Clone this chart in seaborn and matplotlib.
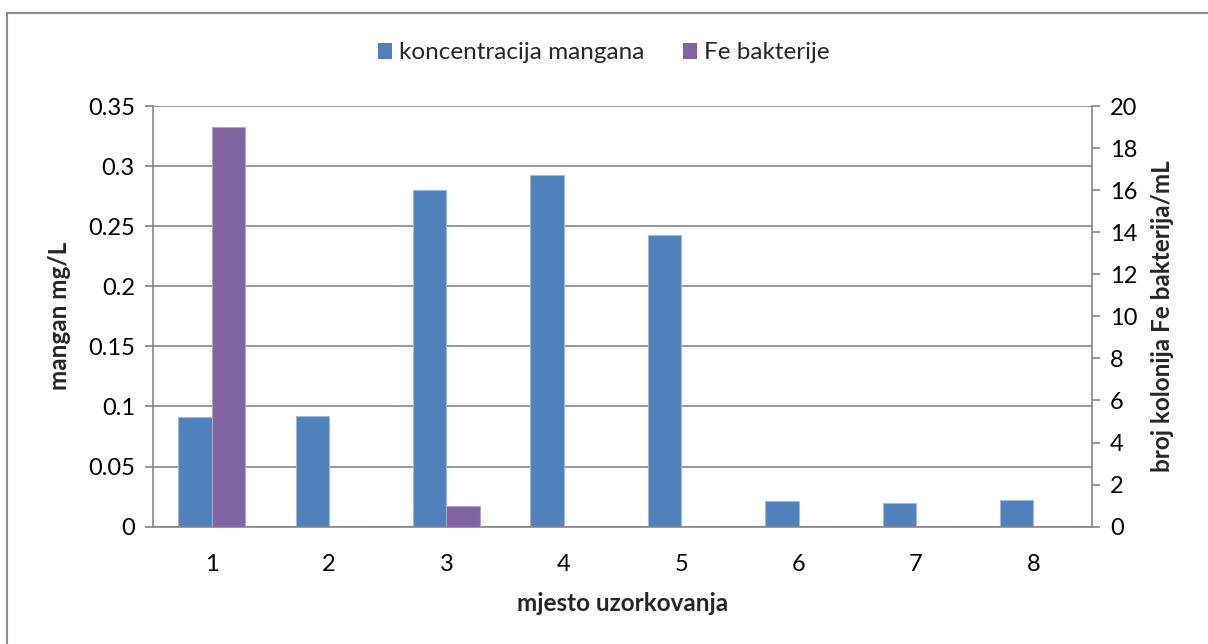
import matplotlib
matplotlib.use("Agg")
import matplotlib.pyplot as plt
from matplotlib.patches import Rectangle, Patch
from matplotlib.ticker import MultipleLocator, FuncFormatter
import seaborn as sns
import pandas as pd

# Sampling sites and measured values
mjesta = ["1", "2", "3", "4", "5", "6", "7", "8"]
mangan = [0.091, 0.092, 0.280, 0.293, 0.243, 0.021, 0.020, 0.022]
fe_bakterije = [19, 0, 1, 0, 0, 0, 0, 0]
serije = ["koncentracija mangana", "Fe bakterije"]
boje = ["#4F81BD", "#8064A2"]

sns.set_theme(style="white")
plt.rcParams["font.family"] = ["Lato", "DejaVu Sans"]

df_mn = pd.DataFrame({"mjesto": mjesta, "vrijednost": mangan, "serija": serije[0]})
df_fe = pd.DataFrame({"mjesto": mjesta, "vrijednost": fe_bakterije, "serija": serije[1]})

fig = plt.figure(figsize=(12.08, 6.44), dpi=100)
ax = fig.add_axes([0.1267, 0.1822, 0.904 - 0.1267, 0.8354 - 0.1822])
ax2 = ax.twinx()

palette = dict(zip(serije, boje))
common = dict(x="mjesto", y="vrijednost", hue="serija", hue_order=serije,
              order=mjesta, palette=palette, width=0.57, gap=0, dodge=True,
              saturation=1, legend=False, linewidth=0.8)
sns.barplot(data=df_mn, ax=ax, edgecolor="#9DB9DD", **common)
sns.barplot(data=df_fe, ax=ax2, edgecolor="#B3A2C7", **common)

grid_c = "#868686"
ax.set_ylim(0, 0.35)
ax2.set_ylim(0, 20)
ax.set_xlim(-0.5, 7.5)
ax.yaxis.set_major_locator(MultipleLocator(0.05))
ax.yaxis.set_major_formatter(FuncFormatter(lambda v, p: f"{v:.2f}".rstrip("0").rstrip(".") if v else "0"))
ax2.yaxis.set_major_locator(MultipleLocator(2))

ax.grid(axis="y", color=grid_c, linewidth=1.2)
ax.set_axisbelow(True)
for a in (ax, ax2):
    for s in a.spines.values():
        s.set_visible(False)
ax.spines["left"].set_visible(True)
ax.spines["bottom"].set_visible(True)
ax2.spines["right"].set_visible(True)
for s in (ax.spines["left"], ax.spines["bottom"], ax2.spines["right"]):
    s.set_color(grid_c)
    s.set_linewidth(1.2)

tick_fs = 17
label_fs = 17.5
ax.tick_params(axis="y", which="major", left=True, length=6, width=1.2, color=grid_c,
               labelsize=tick_fs, pad=7, labelcolor="black")
ax.tick_params(axis="x", bottom=False, labelsize=tick_fs, pad=14, labelcolor="black")
ax2.tick_params(axis="y", right=True, length=6, width=1.2, color=grid_c,
                labelsize=tick_fs, pad=7, labelcolor="black")

ax.set_xlabel("mjesto uzorkovanja", fontsize=label_fs, fontweight="bold", labelpad=12)
ax.set_ylabel("mangan mg/L", fontsize=label_fs, fontweight="bold", labelpad=12)
ax2.set_ylabel("broj kolonija Fe bakterija/mL", fontsize=label_fs, fontweight="bold", labelpad=10)

handles = [Patch(facecolor=c, edgecolor="none") for c in boje]
fig.legend(handles, serije, loc="center", bbox_to_anchor=(0.5, 0.918), ncol=2,
           frameon=False, fontsize=label_fs, handlelength=0.55, handleheight=0.62,
           handletextpad=0.3, columnspacing=1.6)

# Chart-area frame; its right and bottom edges run past the canvas
fig.patches.append(Rectangle((7 / 1208, -0.05), 1.2, 1.05 - 13 / 644,
                             transform=fig.transFigure, fill=False,
                             edgecolor="#8C8C8C", linewidth=1.5))

fig.savefig("out.png", dpi=100)
